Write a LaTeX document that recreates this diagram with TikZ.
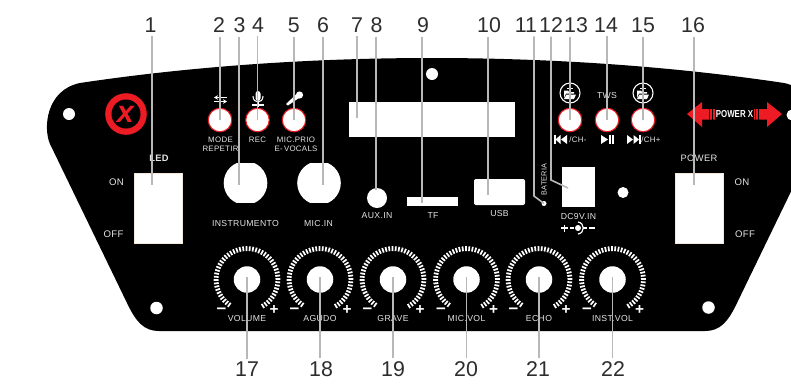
\documentclass[tikz,border=0pt]{standalone}
\usepackage{fontspec}
\setmainfont{Liberation Sans}
\newfontfamily\panfont[LetterSpace=4.0]{Liberation Sans}
\usepackage{xcolor}
\usetikzlibrary{arrows.meta,positioning,calc}
\definecolor{pxred}{RGB}{237,28,36}
\definecolor{pxgray}{RGB}{184,184,184}
\definecolor{pxdark}{RGB}{45,45,45}
\definecolor{pxtext}{RGB}{228,228,228}
\definecolor{pxcream}{RGB}{245,232,216}
\def\pxu{0.75pt}
\tikzset{
    numlab/.style={font=\fontsize{16}{16}\selectfont, text=pxdark, inner sep=2.5pt},
    panlab/.style={font=\panfont\fontsize{6.5}{7.5}\selectfont, text=pxtext, inner sep=0pt, align=center},
    btnlab/.style={font=\panfont\fontsize{5.9}{6.9}\selectfont, text=pxtext, inner sep=0pt, align=center},
    leader/.style={draw=pxgray, line width=1.2pt},
    btn/.style={circle, fill=white, draw=pxred, line width=0.8pt, minimum size=23.5*\pxu, inner sep=0pt},
    knobcap/.style={circle, fill=white, minimum size=26.5*\pxu, inner sep=0pt},
    cutout/.style={rectangle, fill=white, inner sep=0pt},
    switchbox/.style={cutout, draw=pxcream, line width=0.5pt, minimum width=48*\pxu, minimum height=70*\pxu},
    screw/.style={circle, fill=white, inner sep=0pt},
    icon/.style={draw=white, line width=0.8pt},
}
\begin{document}
\begin{tikzpicture}[x=\pxu, y=-\pxu]
\clip (0,0) rectangle (791,390);
\fill[white] (0,0) rectangle (791,390);

% Panel
\fill[black] (127,303) -- (50,144) .. controls (43,128) and (46,90) .. (80,83)
    .. controls (180,68) and (300,58) .. (432,58)
    .. controls (564,58) and (684,68) .. (784,83)
    .. controls (818,90) and (821,128) .. (814,144)
    -- (737,303) .. controls (728,322) and (720,331) .. (705,331)
    -- (159,331) .. controls (144,331) and (136,322) .. (127,303) -- cycle;

% Screw holes
\foreach \name/\x/\y/\d in {s1/69/114/12, s2/432/74/12, s3/156.5/308/12.5, s4/708.5/307.5/12.5, s5/623/192.5/11, s6/792/115/11} {
    \node[screw, minimum size=\d*\pxu] (\name) at (\x,\y) {};
}

% Logo
\fill[pxred] (126,114) circle (20.8);
\fill[black] (126,114) circle (14.5);
\node[font=\fontsize{23}{23}\selectfont\bfseries\itshape, text=pxred, inner sep=0pt] (logox) at (125.5,114) {x};

% Buttons
\foreach \n/\x in {2/220, 4/257.5, 5/294, 13/570, 14/607, 15/643} {
    \node[btn] (b\n) at (\x,120) {};
}
\node[btnlab] (lmode) at (220.5,144) {MODE\\REPETIR};
\node[btnlab] (lrec) at (257.5,139.5) {REC};
\node[btnlab] (lprio) at (296,144) {MIC.PRIO\\E-\,VOCALS};
\node[btnlab, anchor=west] (lchm) at (569,139.5) {/CH-};
\node[btnlab, anchor=west] (lchp) at (641,139.5) {/CH+};
\node[panlab] (ltws) at (607,95.5) {TWS};

% Button icons
\draw[icon, -{Stealth[length=3pt,width=3.5pt]}] (227,97.5) -- (214,97.5);
\draw[icon, -{Stealth[length=3pt,width=3.5pt]}] (214,101.5) -- (227,101.5);
\fill[white, rounded corners=2pt] (255.5,91) rectangle (260.5,101);
\draw[icon] (253,96) .. controls (253,104) and (263,104) .. (263,96);
\draw[icon] (258,102) -- (258,107);
\draw[icon] (252,105) -- (264,105);
\fill[white] (299.5,95) circle (3.6);
\fill[white] (296,94.5) -- (299,98) -- (288,105.5) -- (286,104) -- cycle;
\foreach \name/\x in {fa/570, fb/643} {
    \draw[white, line width=0.8pt] (\x,93) circle (10);
    \fill[white] (\x-6,90.5) -- (\x-2,90.5) -- (\x-1,92) -- (\x+4,92) -- (\x+4,93.5) -- (\x-4,93.5) -- (\x-6,98) -- cycle;
    \fill[white] (\x-3.5,94.5) -- (\x+6,94.5) -- (\x+4,99) -- (\x-6,99) -- cycle;
}
\draw[icon, line width=0.6pt] (567,88.5) -- (573,88.5);
\draw[icon, line width=0.6pt] (640,88) -- (646,88);
\draw[icon, line width=0.6pt] (643,85) -- (643,91);

% Transport marks
\fill[white] (553.5,135) rectangle (555.5,144);
\fill[white] (560.5,135) -- (560.5,144) -- (555.5,139.5) -- cycle;
\fill[white] (567,135) -- (567,144) -- (561,139.5) -- cycle;
\fill[white] (601,135) -- (601,144) -- (608,139.5) -- cycle;
\fill[white] (609,135) rectangle (611,144);
\fill[white] (612,135) rectangle (614,144);
\fill[white] (627,135) -- (627,144) -- (633,139.5) -- cycle;
\fill[white] (633.5,135) -- (633.5,144) -- (639,139.5) -- cycle;
\fill[white] (639,135) rectangle (641,144);

% Power X arrow
\fill[pxred] (687,114) -- (702,102) -- (702,109) -- (767,109) -- (767,102) -- (782,114)
    -- (767,127) -- (767,119.5) -- (702,119.5) -- (702,127) -- cycle;
\foreach \x in {709,712,755,758} {
    \fill[black] (\x,109) rectangle (\x+1,119.5);
}
\fill[black] (715,109) rectangle (754,119.5);
\node[font=\fontsize{7.6}{8}\selectfont\bfseries, text=white, inner sep=0pt] (lpowerx) at (734.5,114.5) {\scalebox{0.78}[1]{POWER X}};

% Switches
\node[switchbox] (led) at (158.5,208) {};
\node[switchbox] (pwr) at (699.5,208) {};
\node[panlab, font=\panfont\fontsize{7}{8}\selectfont\bfseries] (lled) at (159,158) {LED};
\node[panlab, font=\panfont\fontsize{7}{8}\selectfont] (lpwr) at (699,158) {POWER};
\foreach \name/\x/\y/\txt in {on1/116.5/182.5/ON, of1/113.5/234.5/OFF, on2/742/182.5/ON, of2/745/234.5/OFF} {
    \node[panlab, font=\panfont\fontsize{7.2}{8}\selectfont] (\name) at (\x,\y) {\txt};
}

% Screen and ports
\node[cutout, minimum width=166*\pxu, minimum height=35*\pxu] (screen) at (432,119.5) {};
\foreach \x in {245.5,319} {
    \begin{scope}
    \clip (\x-25,163.3) rectangle (\x+25,202.7);
    \fill[white] (\x,183) circle (21.8);
    \end{scope}
}
\node[screw, minimum size=20*\pxu] (aux) at (377,198) {};
\node[cutout, minimum width=51*\pxu, minimum height=8.5*\pxu] (tf) at (432.5,201.5) {};
\node[cutout, rounded corners=1.5pt, minimum width=51*\pxu, minimum height=26*\pxu] (usb) at (499.5,192) {};
\node[cutout, minimum width=33*\pxu, minimum height=40*\pxu] (dcin) at (578.5,186.7) {};
\node[screw, minimum size=5*\pxu] (batdot) at (544,203.5) {};
\node[btnlab, rotate=90, font=\panfont\fontsize{5.5}{6.5}\selectfont] (lbat) at (544,179.5) {BATERIA};
\foreach \name/\x/\y/\txt in {linst/245.5/224/INSTRUMENTO, lmic/318.5/224/MIC.IN, laux/377/216/AUX.IN, ltf/433/216/TF, lusb/499.5/213.5/USB, ldc/578.5/217/DC9V.IN} {
    \node[panlab] (\name) at (\x,\y) {\txt};
}

% DC plug mark
\draw[icon, line width=1pt] (561,228) -- (568,228);
\draw[icon, line width=1pt] (564.5,224.5) -- (564.5,231.5);
\draw[icon, line width=1pt] (569.5,228) -- (574,228);
\fill[white] (578,228) circle (3);
\draw[icon, line width=0.9pt] (578,222) .. controls (585,223) and (585,233) .. (578,234);
\draw[icon, line width=1pt] (583,228) -- (587,228);
\draw[icon, line width=1pt] (589,228) -- (595,228);

% Knobs
\foreach \n/\x/\txt in {17/247/VOLUME, 18/320/AGUDO, 19/393/GRAVE, 20/466.5/MIC.VOL, 21/539/ECHO, 22/612.5/INST.VOL} {
    \foreach \a in {-59,-53,...,240} {
        \draw[white, line width=1.3pt] ({\x+28.5*cos(\a)},{279.5-28.5*sin(\a)}) -- ({\x+33.3*cos(\a)},{279.5-33.3*sin(\a)});
    }
    \node[knobcap] (k\n) at (\x,279.5) {};
    \node[panlab] (kl\n) at (\x,318.5) {\txt};
    \node[font=\fontsize{13}{13}\selectfont\bfseries, text=white, inner sep=0pt] (km\n) at (\x-25.5,310.5) {--};
    \node[font=\fontsize{11.5}{11.5}\selectfont\bfseries, text=white, inner sep=0pt] (kp\n) at (\x+27,310) {+};
}

% Numbers and leaders
\foreach \n/\nx/\tx/\ty in {1/150.5/152/185, 3/239.5/239/185, 6/323/323/185, 7/357/357/118, 8/376.5/376/190, 9/423/422/203, 10/489/488/195, 16/693/694/185} {
    \node[numlab] (n\n) at (\nx,25.5) {\n};
    \coordinate (t\n) at (\tx,\ty);
    \draw[leader] (n\n.south -| t\n) -- (t\n);
}
\foreach \n/\nx in {2/219, 4/258, 5/293.7, 13/576, 14/606, 15/643} {
    \node[numlab] (n\n) at (\nx,25.5) {\n};
    \draw[leader] (n\n.south -| b\n.center) -- (b\n.center);
}
\node[numlab] (n11) at (526,25.5) {11};
\node[numlab] (n12) at (551,25.5) {12};
\coordinate (c11) at (534,196);
\coordinate (c12) at (551,180);
\coordinate (t12) at (568,188);
\draw[leader] (n11.south -| c11) -- (c11) -- (batdot.center);
\draw[leader] (n12.south) -- (c12) -- (t12);
\foreach \n/\nx in {17/247, 18/321, 19/393, 20/466, 21/538, 22/613} {
    \node[numlab] (n\n) at (\nx,369.5) {\n};
    \draw[leader] (n\n.north -| k\n.center) -- ($(k\n.center)+(0,-3)$);
}
\end{tikzpicture}
\end{document}
